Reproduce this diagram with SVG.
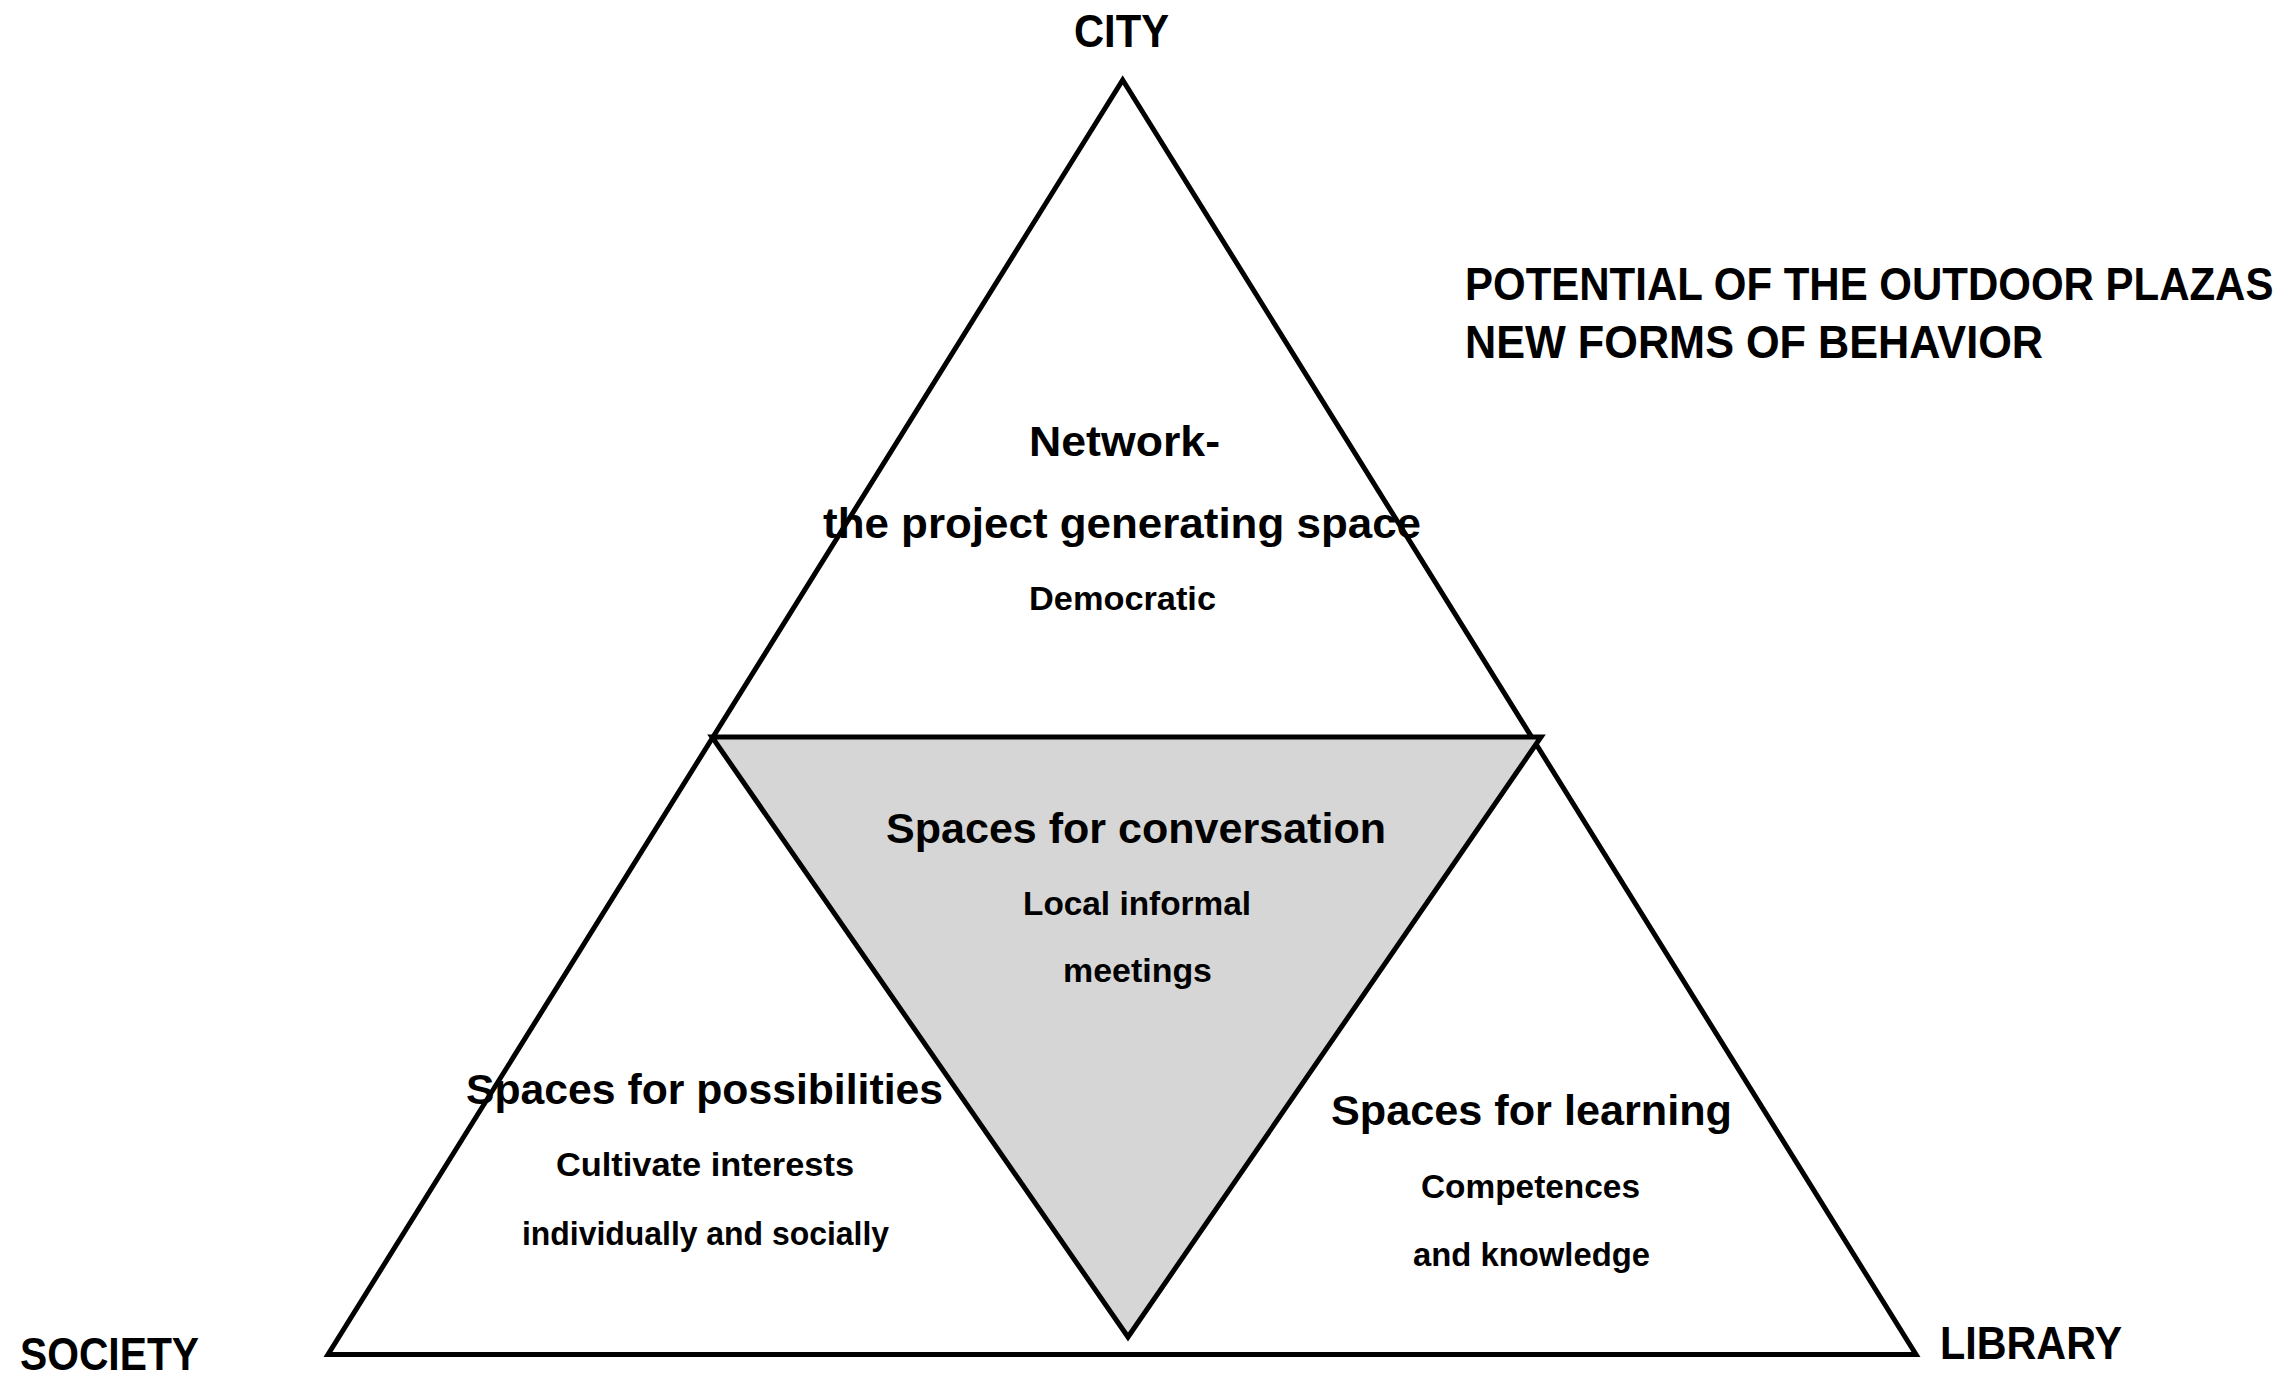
<svg xmlns="http://www.w3.org/2000/svg" width="2292" height="1380" viewBox="0 0 2292 1380">
<style>
.t{font-family:"Liberation Sans",Arial,sans-serif;font-weight:bold;fill:#000}
.h{font-size:46px}
.p{font-size:42px}
.m{font-size:43px}
.s{font-size:34px}
.line{fill:none;stroke:#000;stroke-width:5;stroke-linejoin:miter;stroke-miterlimit:10}
</style>
<rect width="2292" height="1380" fill="#fff"/>
<g id="shapes">
<g id="outer-triangle"><polygon class="line" points="1122.7,80 1916,1354.5 328,1354.5"/></g>
<g id="center-triangle"><polygon points="712,737 1541,737 1128,1337" fill="#d6d6d6" stroke="#000" stroke-width="5" stroke-linejoin="miter" stroke-miterlimit="10"/></g>
</g>
<g id="connectors"></g>
<g id="label-city"><text class="t h" x="1074" y="47" textLength="95" lengthAdjust="spacingAndGlyphs">CITY</text></g>
<g id="label-potential">
<text class="t p" transform="translate(1465,300) scale(1,1.1)" x="0" y="0">POTENTIAL OF THE OUTDOOR PLAZAS</text>
<text class="t p" transform="translate(1465,358) scale(1,1.1)" x="0" y="0" textLength="578" lengthAdjust="spacingAndGlyphs">NEW FORMS OF BEHAVIOR</text>
</g>
<g id="label-society"><text class="t h" x="20" y="1370" textLength="179" lengthAdjust="spacingAndGlyphs">SOCIETY</text></g>
<g id="label-library"><text class="t h" x="1940" y="1359" textLength="182" lengthAdjust="spacingAndGlyphs">LIBRARY</text></g>
<g id="node-network">
<text class="t m" x="1029" y="456" textLength="191" lengthAdjust="spacingAndGlyphs">Network-</text>
<text class="t m" x="823" y="538" textLength="598" lengthAdjust="spacingAndGlyphs">the project generating space</text>
<text class="t s" x="1029" y="610" textLength="187" lengthAdjust="spacingAndGlyphs">Democratic</text>
</g>
<g id="node-conversation">
<text class="t m" x="886" y="843" textLength="500" lengthAdjust="spacingAndGlyphs">Spaces for conversation</text>
<text class="t s" x="1023" y="915" textLength="228" lengthAdjust="spacingAndGlyphs">Local informal</text>
<text class="t s" x="1063" y="982" textLength="149" lengthAdjust="spacingAndGlyphs">meetings</text>
</g>
<g id="node-possibilities">
<text class="t m" x="466" y="1104" textLength="477" lengthAdjust="spacingAndGlyphs">Spaces for possibilities</text>
<text class="t s" x="556" y="1176" textLength="298" lengthAdjust="spacingAndGlyphs">Cultivate interests</text>
<text class="t s" x="522" y="1245" textLength="367" lengthAdjust="spacingAndGlyphs">individually and socially</text>
</g>
<g id="node-learning">
<text class="t m" x="1331" y="1125" textLength="401" lengthAdjust="spacingAndGlyphs">Spaces for learning</text>
<text class="t s" x="1421" y="1198" textLength="219" lengthAdjust="spacingAndGlyphs">Competences</text>
<text class="t s" x="1413" y="1266" textLength="237" lengthAdjust="spacingAndGlyphs">and knowledge</text>
</g>
</svg>
